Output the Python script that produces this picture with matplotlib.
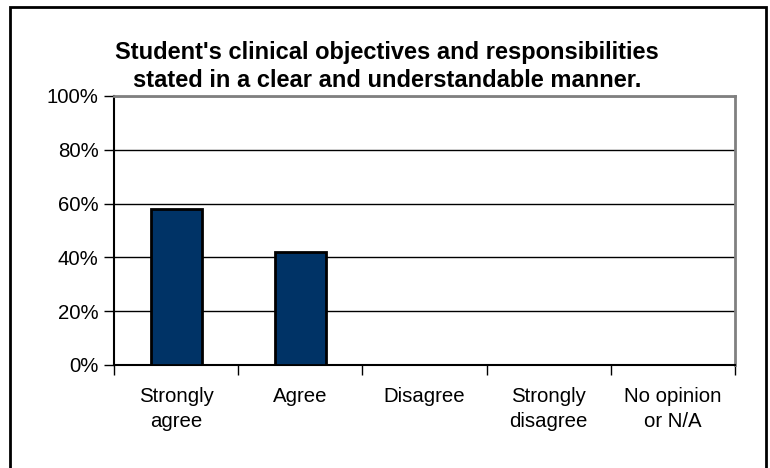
import matplotlib.pyplot as plt
from matplotlib.patches import Rectangle

plt.rcParams['font.family'] = ['Liberation Sans', 'DejaVu Sans']

categories = ['Strongly\nagree', 'Agree', 'Disagree', 'Strongly\ndisagree', 'No opinion\nor N/A']
values = [58, 42, 0, 0, 0]
yticks = [0, 20, 40, 60, 80, 100]
title = "Student's clinical objectives and responsibilities\nstated in a clear and understandable manner."

fig = plt.figure(figsize=(7.7, 4.68), dpi=100)
ax = fig.add_axes([0.148, 0.2201, 0.8065, 0.5748])

x = range(len(categories))
ax.bar(x, values, width=0.41, color='#003366', edgecolor='black', linewidth=2, zorder=3)

ax.set_xlim(-0.5, len(categories) - 0.5)
ax.set_ylim(0, 100)
ax.set_yticks(yticks)
ax.set_yticklabels([f'{v}%' for v in yticks], fontsize=14.7)
ax.yaxis.grid(True, color='black', linewidth=1, zorder=0)

# category labels between boundary ticks
ax.set_xticks([i - 0.5 for i in range(len(categories) + 1)])
ax.set_xticklabels([])
ax.tick_params(axis='x', length=7, width=1, direction='out')
ax.tick_params(axis='y', length=7, width=1, direction='out', pad=4)
for i, lab in enumerate(categories):
    ax.text(i, -0.08, lab, transform=ax.get_xaxis_transform(), ha='center', va='top',
            fontsize=14.7, linespacing=1.45)

for side in ['left', 'bottom']:
    ax.spines[side].set_color('black')
    ax.spines[side].set_linewidth(1.5)
for side in ['top', 'right']:
    ax.spines[side].set_color('#808080')
    ax.spines[side].set_linewidth(2)

fig.text(0.503, 1 - 87 / 468, title, ha='center', va='baseline', fontsize=17,
         fontweight='bold', linespacing=1.28)

fig.patches.append(Rectangle((10 / 770, -0.05), 756 / 770, 1.05 - 7 / 468, transform=fig.transFigure,
                             fill=False, edgecolor='black', linewidth=2))

plt.savefig('out.png', dpi=100)
